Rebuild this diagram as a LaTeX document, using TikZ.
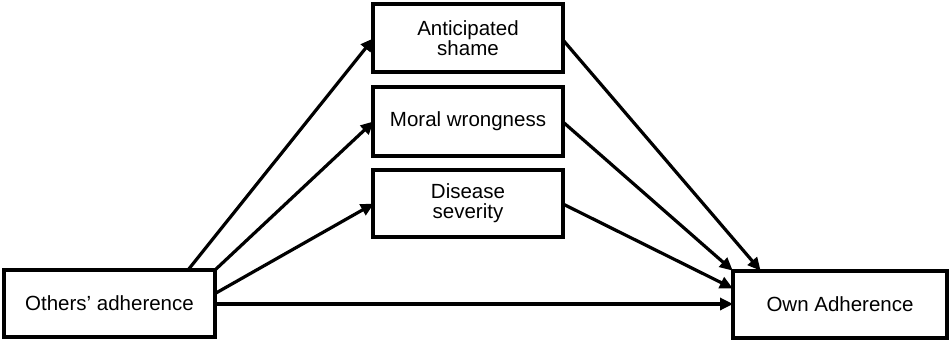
\documentclass[tikz,border=0pt]{standalone}
\usepackage{fontspec}
\setmainfont{Liberation Sans}
\usetikzlibrary{arrows.meta}
\begin{document}
\begin{tikzpicture}[x=1pt,y=-1pt,
  box/.style={draw,line width=3.4pt,inner sep=0pt,align=center,font=\fontsize{20.5}{23}\selectfont},
  arr/.style={line width=3.2pt,-{Triangle[length=13pt,width=12pt]},shorten >=-1pt}]
\useasboundingbox (0,0) rectangle (950,343);
\node[box,minimum width=211pt,minimum height=67pt] (oth) at (109.5,303.5) {Others’ adherence};
\node[box,minimum width=214pt,minimum height=67pt] (own) at (840,304.5) {Own Adherence};
\node[box,minimum width=190pt,minimum height=68pt] (sha) at (468,38) {Anticipated\\[-3pt]shame};
\node[box,minimum width=190pt,minimum height=69pt] (mor) at (468,121.5) {Moral wrongness};
\node[box,minimum width=190pt,minimum height=67pt] (dis) at (468,203.5) {Disease\\[-3pt]severity};
\coordinate (o1) at (188,270);
\coordinate (o2) at (215,270);
\coordinate (o3) at (216,293);
\coordinate (o4) at (216,304);
\coordinate (t1) at (373,39);
\coordinate (t2) at (373,122);
\coordinate (t3) at (373,204);
\coordinate (t4) at (732,304);
\coordinate (s1) at (563,40);
\coordinate (s2) at (563,122);
\coordinate (s3) at (563,204);
\coordinate (e1) at (760,270);
\coordinate (e2) at (732,270);
\coordinate (e3) at (732,288);
\draw[arr] (o1) -- (t1);
\draw[arr] (o2) -- (t2);
\draw[arr] (o3) -- (t3);
\draw[arr] (o4) -- (t4);
\draw[arr] (s1) -- (e1);
\draw[arr] (s2) -- (e2);
\draw[arr] (s3) -- (e3);
\end{tikzpicture}
\end{document}
